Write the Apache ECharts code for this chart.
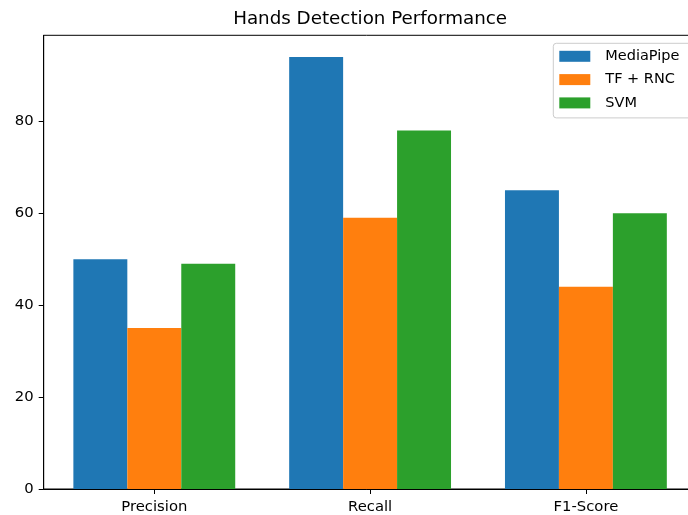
<!DOCTYPE html>
<html>
<head>
<meta charset="utf-8">
<script src="https://cdn.jsdelivr.net/npm/echarts@6/dist/echarts.min.js"></script>
<style>
html,body{margin:0;padding:0;background:#fff;}
#chart{width:688px;height:515px;}
</style>
</head>
<body>
<div id="chart"></div>
<script>
const categories = ['Precision', 'Recall', 'F1-Score'];
const seriesNames = ['MediaPipe', 'TF + RNC', 'SVM'];
const mediapipe = [50, 94, 65];
const tfRnc = [35, 59, 44];
const svm = [49, 78, 60];
const yTicks = [0, 20, 40, 60, 80];
const colors = ['#1f77b4', '#ff7f0e', '#2ca02c'];

const FONT = 'DejaVu Sans';
const barUnit = 0.25;
const xMin = -0.5125, xMax = 2.5125;
const gridLeft = 43.7, gridWidth = 652.8, gridTop = 35.3, gridHeight = 453.7;
const yMax = Math.max(...mediapipe, ...tfRnc, ...svm) * 1.05;
const barPx = gridWidth * barUnit / (xMax - xMin);

const allSeries = [mediapipe, tfRnc, svm];
const chart = echarts.init(document.getElementById('chart'), null, {renderer: 'canvas'});
chart.setOption({
  animation: false,
  backgroundColor: '#fff',
  color: colors,
  title: {
    text: 'Hands Detection Performance',
    left: gridLeft + gridWidth / 2,
    textAlign: 'center',
    top: 10,
    padding: 0,
    textStyle: {fontFamily: FONT, fontSize: 18.3, fontWeight: 'normal', color: '#000'}
  },
  legend: {
    orient: 'vertical',
    left: 553.3,
    top: 43.3,
    padding: [5, 30, 7, 6],
    itemWidth: 31,
    itemHeight: 11,
    itemGap: 7.3,
    icon: 'rect',
    backgroundColor: '#fff',
    borderColor: '#ccc',
    borderWidth: 1,
    borderRadius: 3,
    textStyle: {fontFamily: FONT, fontSize: 14.5, color: '#000', lineHeight: 16, padding: [0, 0, 0, 10]},
    data: seriesNames
  },
  grid: {
    left: gridLeft, top: gridTop, width: gridWidth, height: gridHeight,
    outerBoundsMode: 'none',
    containLabel: false,
    show: true, borderColor: '#000', borderWidth: 1, backgroundColor: 'transparent'
  },
  xAxis: {
    type: 'value',
    min: xMin, max: xMax,
    splitLine: {show: false},
    axisLine: {show: true, onZero: false, lineStyle: {color: '#000', width: 1}},
    axisTick: {show: true, length: 5, lineStyle: {color: '#000'}, customValues: categories.map((c, i) => i)},
    axisLabel: {
      customValues: categories.map((c, i) => i),
      formatter: v => categories[Math.round(v)],
      fontFamily: FONT, fontSize: 14.8, color: '#000', margin: 11
    }
  },
  yAxis: {
    type: 'value',
    min: 0, max: yMax,
    splitLine: {show: false},
    axisLine: {show: true, onZero: false, lineStyle: {color: '#000', width: 1}},
    axisTick: {show: true, length: 5, lineStyle: {color: '#000'}, customValues: yTicks},
    axisLabel: {customValues: yTicks, fontFamily: FONT, fontSize: 14.8, color: '#000', margin: 10}
  },
  series: seriesNames.map((name, s) => ({
    name: name,
    type: 'bar',
    barWidth: barPx,
    barGap: '0%',
    data: categories.map((c, i) => [i, allSeries[s][i]]),
    itemStyle: {color: colors[s]}
  }))
});
</script>
</body>
</html>
